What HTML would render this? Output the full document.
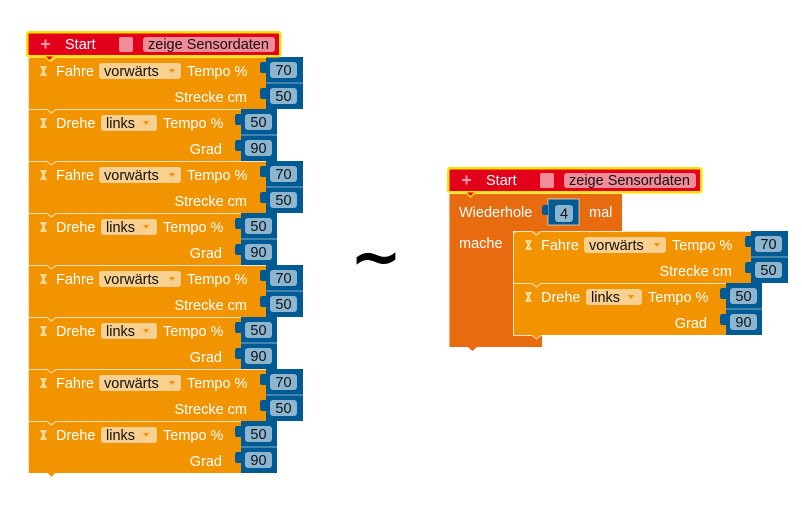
<!DOCTYPE html>
<html><head><meta charset="utf-8">
<style>
html,body{margin:0;padding:0;background:#fff;width:802px;height:508px;overflow:hidden}
svg{display:block}
text{font-family:"Liberation Sans",Arial,sans-serif;font-size:14.5px}
.w{fill:#fff}
.k{fill:#111}
.or{fill:#f29400}
.bl{fill:#005a94}
.fb{fill:#8cb5cf}
.fo{fill:#f9d08f}
.hl{fill:none;stroke:#fff;stroke-opacity:.75;stroke-width:1}
.hg{fill:none;stroke:#fdebc0;stroke-width:1.4}
</style></head>
<body>
<svg width="802" height="508" viewBox="0 0 802 508" xmlns="http://www.w3.org/2000/svg">

<!-- ===== LEFT STACK ===== -->
<path d="M47,472 L51.5,477 L56,472 Z" class="or"/>

<g transform="translate(28,57)">
 <rect x="0" y="0" width="238" height="52" class="or"/>
 <path d="M0.5,52 V0.5 H19 L23.5,4 L28,0.5 H238" class="hl"/>
 <path d="M12.5,10 h6 M12.5,18 h6 M13.5,10 L17.5,10 L15.5,14 L17.5,18 L13.5,18 L15.5,14 Z" class="hg"/>
 <text x="28" y="19" class="w">Fahre</text>
 <rect x="71" y="6" width="82" height="16" rx="3" class="fo"/>
 <text x="76" y="19" class="k">vorwärts</text>
 <path d="M141,12 h6 l-3,4 z" class="or"/>
 <text x="159" y="19" class="w">Tempo %</text>
 <text x="219" y="45" class="w" text-anchor="end">Strecke cm</text>
 <rect x="238" y="0" width="37" height="26" class="bl"/>
 <path d="M238,5 H234 Q232,5 232,8 V13 Q232,16 234,16 H238 Z" class="bl"/>
 <rect x="242" y="5" width="27" height="16" rx="3" class="fb"/>
 <text x="255.5" y="18" class="k" text-anchor="middle">70</text>
 <rect x="238" y="26" width="37" height="26" class="bl"/>
 <line x1="238" y1="26" x2="275" y2="26" stroke="#fff" stroke-opacity=".5"/>
 <path d="M238,31 H234 Q232,31 232,34 V39 Q232,42 234,42 H238 Z" class="bl"/>
 <rect x="242" y="31" width="27" height="16" rx="3" class="fb"/>
 <text x="255.5" y="44" class="k" text-anchor="middle">50</text>
</g>

<g transform="translate(28,109)">
 <rect x="0" y="0" width="213" height="52" class="or"/>
 <path d="M0.5,52 V0.5 H19 L23.5,4 L28,0.5 H213" class="hl"/>
 <path d="M12.5,10 h6 M12.5,18 h6 M13.5,10 L17.5,10 L15.5,14 L17.5,18 L13.5,18 L15.5,14 Z" class="hg"/>
 <text x="28" y="19" class="w">Drehe</text>
 <rect x="73" y="6" width="56" height="16" rx="3" class="fo"/>
 <text x="78" y="19" class="k">links</text>
 <path d="M115,12 h6 l-3,4 z" class="or"/>
 <text x="135" y="19" class="w">Tempo %</text>
 <text x="194" y="45" class="w" text-anchor="end">Grad</text>
 <rect x="213" y="0" width="36" height="26" class="bl"/>
 <path d="M213,5 H209 Q207,5 207,8 V13 Q207,16 209,16 H213 Z" class="bl"/>
 <rect x="217" y="5" width="27" height="16" rx="3" class="fb"/>
 <text x="230.5" y="18" class="k" text-anchor="middle">50</text>
 <rect x="213" y="26" width="36" height="26" class="bl"/>
 <line x1="213" y1="26" x2="249" y2="26" stroke="#fff" stroke-opacity=".5"/>
 <path d="M213,31 H209 Q207,31 207,34 V39 Q207,42 209,42 H213 Z" class="bl"/>
 <rect x="217" y="31" width="27" height="16" rx="3" class="fb"/>
 <text x="230.5" y="44" class="k" text-anchor="middle">90</text>
</g>

<g transform="translate(28,161)">
 <rect x="0" y="0" width="238" height="52" class="or"/>
 <path d="M0.5,52 V0.5 H19 L23.5,4 L28,0.5 H238" class="hl"/>
 <path d="M12.5,10 h6 M12.5,18 h6 M13.5,10 L17.5,10 L15.5,14 L17.5,18 L13.5,18 L15.5,14 Z" class="hg"/>
 <text x="28" y="19" class="w">Fahre</text>
 <rect x="71" y="6" width="82" height="16" rx="3" class="fo"/>
 <text x="76" y="19" class="k">vorwärts</text>
 <path d="M141,12 h6 l-3,4 z" class="or"/>
 <text x="159" y="19" class="w">Tempo %</text>
 <text x="219" y="45" class="w" text-anchor="end">Strecke cm</text>
 <rect x="238" y="0" width="37" height="26" class="bl"/>
 <path d="M238,5 H234 Q232,5 232,8 V13 Q232,16 234,16 H238 Z" class="bl"/>
 <rect x="242" y="5" width="27" height="16" rx="3" class="fb"/>
 <text x="255.5" y="18" class="k" text-anchor="middle">70</text>
 <rect x="238" y="26" width="37" height="26" class="bl"/>
 <line x1="238" y1="26" x2="275" y2="26" stroke="#fff" stroke-opacity=".5"/>
 <path d="M238,31 H234 Q232,31 232,34 V39 Q232,42 234,42 H238 Z" class="bl"/>
 <rect x="242" y="31" width="27" height="16" rx="3" class="fb"/>
 <text x="255.5" y="44" class="k" text-anchor="middle">50</text>
</g>

<g transform="translate(28,213)">
 <rect x="0" y="0" width="213" height="52" class="or"/>
 <path d="M0.5,52 V0.5 H19 L23.5,4 L28,0.5 H213" class="hl"/>
 <path d="M12.5,10 h6 M12.5,18 h6 M13.5,10 L17.5,10 L15.5,14 L17.5,18 L13.5,18 L15.5,14 Z" class="hg"/>
 <text x="28" y="19" class="w">Drehe</text>
 <rect x="73" y="6" width="56" height="16" rx="3" class="fo"/>
 <text x="78" y="19" class="k">links</text>
 <path d="M115,12 h6 l-3,4 z" class="or"/>
 <text x="135" y="19" class="w">Tempo %</text>
 <text x="194" y="45" class="w" text-anchor="end">Grad</text>
 <rect x="213" y="0" width="36" height="26" class="bl"/>
 <path d="M213,5 H209 Q207,5 207,8 V13 Q207,16 209,16 H213 Z" class="bl"/>
 <rect x="217" y="5" width="27" height="16" rx="3" class="fb"/>
 <text x="230.5" y="18" class="k" text-anchor="middle">50</text>
 <rect x="213" y="26" width="36" height="26" class="bl"/>
 <line x1="213" y1="26" x2="249" y2="26" stroke="#fff" stroke-opacity=".5"/>
 <path d="M213,31 H209 Q207,31 207,34 V39 Q207,42 209,42 H213 Z" class="bl"/>
 <rect x="217" y="31" width="27" height="16" rx="3" class="fb"/>
 <text x="230.5" y="44" class="k" text-anchor="middle">90</text>
</g>

<g transform="translate(28,265)">
 <rect x="0" y="0" width="238" height="52" class="or"/>
 <path d="M0.5,52 V0.5 H19 L23.5,4 L28,0.5 H238" class="hl"/>
 <path d="M12.5,10 h6 M12.5,18 h6 M13.5,10 L17.5,10 L15.5,14 L17.5,18 L13.5,18 L15.5,14 Z" class="hg"/>
 <text x="28" y="19" class="w">Fahre</text>
 <rect x="71" y="6" width="82" height="16" rx="3" class="fo"/>
 <text x="76" y="19" class="k">vorwärts</text>
 <path d="M141,12 h6 l-3,4 z" class="or"/>
 <text x="159" y="19" class="w">Tempo %</text>
 <text x="219" y="45" class="w" text-anchor="end">Strecke cm</text>
 <rect x="238" y="0" width="37" height="26" class="bl"/>
 <path d="M238,5 H234 Q232,5 232,8 V13 Q232,16 234,16 H238 Z" class="bl"/>
 <rect x="242" y="5" width="27" height="16" rx="3" class="fb"/>
 <text x="255.5" y="18" class="k" text-anchor="middle">70</text>
 <rect x="238" y="26" width="37" height="26" class="bl"/>
 <line x1="238" y1="26" x2="275" y2="26" stroke="#fff" stroke-opacity=".5"/>
 <path d="M238,31 H234 Q232,31 232,34 V39 Q232,42 234,42 H238 Z" class="bl"/>
 <rect x="242" y="31" width="27" height="16" rx="3" class="fb"/>
 <text x="255.5" y="44" class="k" text-anchor="middle">50</text>
</g>

<g transform="translate(28,317)">
 <rect x="0" y="0" width="213" height="52" class="or"/>
 <path d="M0.5,52 V0.5 H19 L23.5,4 L28,0.5 H213" class="hl"/>
 <path d="M12.5,10 h6 M12.5,18 h6 M13.5,10 L17.5,10 L15.5,14 L17.5,18 L13.5,18 L15.5,14 Z" class="hg"/>
 <text x="28" y="19" class="w">Drehe</text>
 <rect x="73" y="6" width="56" height="16" rx="3" class="fo"/>
 <text x="78" y="19" class="k">links</text>
 <path d="M115,12 h6 l-3,4 z" class="or"/>
 <text x="135" y="19" class="w">Tempo %</text>
 <text x="194" y="45" class="w" text-anchor="end">Grad</text>
 <rect x="213" y="0" width="36" height="26" class="bl"/>
 <path d="M213,5 H209 Q207,5 207,8 V13 Q207,16 209,16 H213 Z" class="bl"/>
 <rect x="217" y="5" width="27" height="16" rx="3" class="fb"/>
 <text x="230.5" y="18" class="k" text-anchor="middle">50</text>
 <rect x="213" y="26" width="36" height="26" class="bl"/>
 <line x1="213" y1="26" x2="249" y2="26" stroke="#fff" stroke-opacity=".5"/>
 <path d="M213,31 H209 Q207,31 207,34 V39 Q207,42 209,42 H213 Z" class="bl"/>
 <rect x="217" y="31" width="27" height="16" rx="3" class="fb"/>
 <text x="230.5" y="44" class="k" text-anchor="middle">90</text>
</g>

<g transform="translate(28,369)">
 <rect x="0" y="0" width="238" height="52" class="or"/>
 <path d="M0.5,52 V0.5 H19 L23.5,4 L28,0.5 H238" class="hl"/>
 <path d="M12.5,10 h6 M12.5,18 h6 M13.5,10 L17.5,10 L15.5,14 L17.5,18 L13.5,18 L15.5,14 Z" class="hg"/>
 <text x="28" y="19" class="w">Fahre</text>
 <rect x="71" y="6" width="82" height="16" rx="3" class="fo"/>
 <text x="76" y="19" class="k">vorwärts</text>
 <path d="M141,12 h6 l-3,4 z" class="or"/>
 <text x="159" y="19" class="w">Tempo %</text>
 <text x="219" y="45" class="w" text-anchor="end">Strecke cm</text>
 <rect x="238" y="0" width="37" height="26" class="bl"/>
 <path d="M238,5 H234 Q232,5 232,8 V13 Q232,16 234,16 H238 Z" class="bl"/>
 <rect x="242" y="5" width="27" height="16" rx="3" class="fb"/>
 <text x="255.5" y="18" class="k" text-anchor="middle">70</text>
 <rect x="238" y="26" width="37" height="26" class="bl"/>
 <line x1="238" y1="26" x2="275" y2="26" stroke="#fff" stroke-opacity=".5"/>
 <path d="M238,31 H234 Q232,31 232,34 V39 Q232,42 234,42 H238 Z" class="bl"/>
 <rect x="242" y="31" width="27" height="16" rx="3" class="fb"/>
 <text x="255.5" y="44" class="k" text-anchor="middle">50</text>
</g>

<g transform="translate(28,421)">
 <rect x="0" y="0" width="213" height="52" class="or"/>
 <path d="M0.5,52 V0.5 H19 L23.5,4 L28,0.5 H213" class="hl"/>
 <path d="M12.5,10 h6 M12.5,18 h6 M13.5,10 L17.5,10 L15.5,14 L17.5,18 L13.5,18 L15.5,14 Z" class="hg"/>
 <text x="28" y="19" class="w">Drehe</text>
 <rect x="73" y="6" width="56" height="16" rx="3" class="fo"/>
 <text x="78" y="19" class="k">links</text>
 <path d="M115,12 h6 l-3,4 z" class="or"/>
 <text x="135" y="19" class="w">Tempo %</text>
 <text x="194" y="45" class="w" text-anchor="end">Grad</text>
 <rect x="213" y="0" width="36" height="26" class="bl"/>
 <path d="M213,5 H209 Q207,5 207,8 V13 Q207,16 209,16 H213 Z" class="bl"/>
 <rect x="217" y="5" width="27" height="16" rx="3" class="fb"/>
 <text x="230.5" y="18" class="k" text-anchor="middle">50</text>
 <rect x="213" y="26" width="36" height="26" class="bl"/>
 <line x1="213" y1="26" x2="249" y2="26" stroke="#fff" stroke-opacity=".5"/>
 <path d="M213,31 H209 Q207,31 207,34 V39 Q207,42 209,42 H213 Z" class="bl"/>
 <rect x="217" y="31" width="27" height="16" rx="3" class="fb"/>
 <text x="230.5" y="44" class="k" text-anchor="middle">90</text>
</g>

<!-- Start block left -->
<g transform="translate(26,31)">
 <rect x="1.25" y="1.25" width="253" height="24" rx="2" fill="#e2001a" stroke="#ffe100" stroke-width="2.5"/>
 <path d="M19,25.5 L23.5,30 L28,25.5" fill="#e2001a" stroke="#ffe100" stroke-width="1.5"/>
 <rect x="15" y="12" width="9" height="2" fill="#f59aa5"/>
 <rect x="18.5" y="8.5" width="2" height="9" fill="#f59aa5"/>
 <text x="39" y="18" class="w">Start</text>
 <rect x="93" y="6" width="14" height="15" rx="2" fill="#f28c98"/>
 <rect x="117" y="6" width="132" height="15" rx="3" fill="#f28c98"/>
 <text x="122" y="18" class="k">zeige Sensordaten</text>
</g>

<!-- Tilde -->
<text x="376" y="278" text-anchor="middle" style="font-family:'DejaVu Sans',sans-serif;font-size:62px;font-weight:bold" fill="#000">~</text>

<!-- ===== RIGHT ===== -->
<path d="M449,194 H622 V231 H513 V335 H542 V347 H449 Z" fill="#e96b10"/>
<path d="M468,347 L472.5,351 L477,347 Z" fill="#e96b10"/>
<line x1="449.5" y1="194" x2="449.5" y2="347" stroke="#fff" stroke-opacity=".45"/>
<text x="459" y="217" class="w">Wiederhole</text>
<text x="459" y="248" class="w">mache</text>
<rect x="548" y="199" width="31" height="26" class="bl" stroke="#fff" stroke-opacity=".6"/>
<path d="M548,205 H544 Q542,205 542,208 V212 Q542,215 544,215 H548 Z" class="bl"/>
<rect x="555" y="205" width="18" height="17" rx="3" class="fb"/>
<text x="564" y="218.5" class="k" text-anchor="middle">4</text>
<text x="589" y="217" class="w">mal</text>

<g transform="translate(513,231)">
 <path d="M0,4 Q0,0 4,0 H238 V52 H0 Z" class="or"/>
 <path d="M0.5,52 V4 Q0.5,0.5 4,0.5 H19 L23.5,4 L28,0.5 H238" class="hl"/>
 <path d="M12.5,10 h6 M12.5,18 h6 M13.5,10 L17.5,10 L15.5,14 L17.5,18 L13.5,18 L15.5,14 Z" class="hg"/>
 <text x="28" y="19" class="w">Fahre</text>
 <rect x="71" y="6" width="82" height="16" rx="3" class="fo"/>
 <text x="76" y="19" class="k">vorwärts</text>
 <path d="M141,12 h6 l-3,4 z" class="or"/>
 <text x="159" y="19" class="w">Tempo %</text>
 <text x="219" y="45" class="w" text-anchor="end">Strecke cm</text>
 <rect x="238" y="0" width="37" height="26" class="bl"/>
 <path d="M238,5 H234 Q232,5 232,8 V13 Q232,16 234,16 H238 Z" class="bl"/>
 <rect x="242" y="5" width="27" height="16" rx="3" class="fb"/>
 <text x="255.5" y="18" class="k" text-anchor="middle">70</text>
 <rect x="238" y="26" width="37" height="26" class="bl"/>
 <line x1="238" y1="26" x2="275" y2="26" stroke="#fff" stroke-opacity=".5"/>
 <path d="M238,31 H234 Q232,31 232,34 V39 Q232,42 234,42 H238 Z" class="bl"/>
 <rect x="242" y="31" width="27" height="16" rx="3" class="fb"/>
 <text x="255.5" y="44" class="k" text-anchor="middle">50</text>
</g>

<g transform="translate(513,283)">
 <rect x="0" y="0" width="213" height="52" class="or"/>
 <path d="M0.5,52 V0.5 H19 L23.5,4 L28,0.5 H213" class="hl"/>
 <path d="M12.5,10 h6 M12.5,18 h6 M13.5,10 L17.5,10 L15.5,14 L17.5,18 L13.5,18 L15.5,14 Z" class="hg"/>
 <text x="28" y="19" class="w">Drehe</text>
 <rect x="73" y="6" width="56" height="16" rx="3" class="fo"/>
 <text x="78" y="19" class="k">links</text>
 <path d="M115,12 h6 l-3,4 z" class="or"/>
 <text x="135" y="19" class="w">Tempo %</text>
 <text x="194" y="45" class="w" text-anchor="end">Grad</text>
 <rect x="213" y="0" width="36" height="26" class="bl"/>
 <path d="M213,5 H209 Q207,5 207,8 V13 Q207,16 209,16 H213 Z" class="bl"/>
 <rect x="217" y="5" width="27" height="16" rx="3" class="fb"/>
 <text x="230.5" y="18" class="k" text-anchor="middle">50</text>
 <rect x="213" y="26" width="36" height="26" class="bl"/>
 <line x1="213" y1="26" x2="249" y2="26" stroke="#fff" stroke-opacity=".5"/>
 <path d="M213,31 H209 Q207,31 207,34 V39 Q207,42 209,42 H213 Z" class="bl"/>
 <rect x="217" y="31" width="27" height="16" rx="3" class="fb"/>
 <text x="230.5" y="44" class="k" text-anchor="middle">90</text>
 <path d="M0,52.5 H19 L23.5,56 L28,52.5 H29" fill="none" stroke="#fff" stroke-opacity=".8"/>
 <path d="M19,52 L23.5,55.5 L28,52 Z" class="or"/>
</g>

<!-- Start block right -->
<g transform="translate(447,167)">
 <rect x="1.25" y="1.25" width="253" height="24" rx="2" fill="#e2001a" stroke="#ffe100" stroke-width="2.5"/>
 <path d="M19,25.5 L23.5,30 L28,25.5" fill="#e2001a" stroke="#ffe100" stroke-width="1.5"/>
 <rect x="15" y="12" width="9" height="2" fill="#f59aa5"/>
 <rect x="18.5" y="8.5" width="2" height="9" fill="#f59aa5"/>
 <text x="39" y="18" class="w">Start</text>
 <rect x="93" y="6" width="14" height="15" rx="2" fill="#f28c98"/>
 <rect x="117" y="6" width="132" height="15" rx="3" fill="#f28c98"/>
 <text x="122" y="18" class="k">zeige Sensordaten</text>
</g>
</svg>
</body></html>
